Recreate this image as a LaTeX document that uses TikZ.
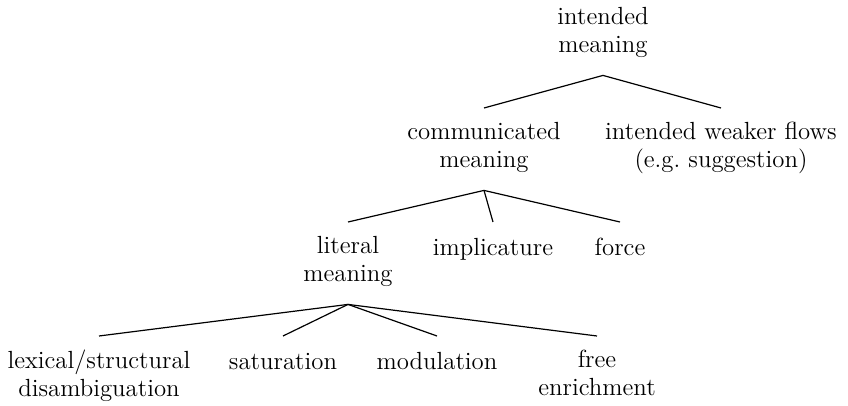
\documentclass[tikz,border=0pt]{standalone}
\usepackage{tikz}
\usetikzlibrary{positioning}
\tikzset{
  lbl/.style={anchor=north,align=center,inner xsep=0pt,inner ysep=7pt,
    font=\fontsize{12.4}{14}\selectfont,
    execute at begin node=\strut,execute at end node=\strut},
  branch/.style={line width=0.6pt,black},
}
\begin{document}
\begin{tikzpicture}[x=0.5pt,y=-0.5pt]
  \useasboundingbox (0,0) rectangle (848,406);
  % top level
  \node[lbl] (intd) at (603,-7) {intended\\meaning};
  \node[lbl] (comm) at (484,108) {communicated\\meaning};
  \node[lbl] (weak) at (721,108) {intended weaker flows\\(e.g.\ suggestion)};
  % communicated meaning
  \node[lbl] (lit) at (348,222) {literal\\meaning};
  \node[lbl] (impl) at (493,222) {implicature};
  \node[lbl] (frc) at (620,222) {force};
  % literal meaning
  \node[lbl] (lex) at (99,336) {lexical/structural\\disambiguation};
  \node[lbl] (sat) at (283,336) {saturation};
  \node[lbl] (mdl) at (437,336) {modulation};
  \node[lbl] (enr) at (597,336) {free\\enrichment};
  % branches
  \foreach \c in {comm,weak} \draw[branch] (intd.south) -- (\c.north);
  \foreach \c in {lit,impl,frc} \draw[branch] (comm.south) -- (\c.north);
  \foreach \c in {lex,sat,mdl,enr} \draw[branch] (lit.south) -- (\c.north);
\end{tikzpicture}
\end{document}
